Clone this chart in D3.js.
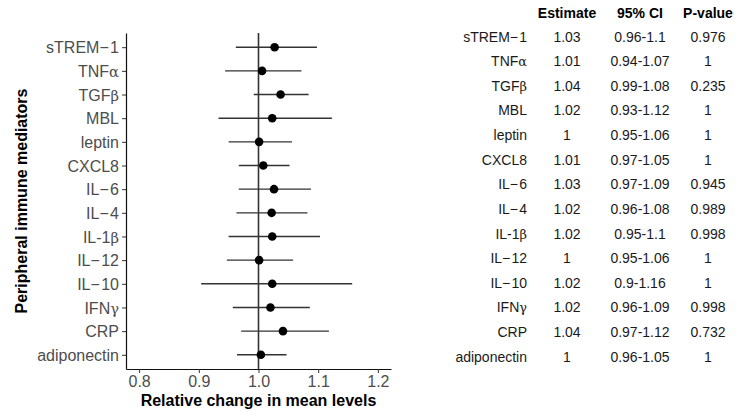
<!DOCTYPE html>
<html>
<head>
<meta charset="utf-8">
<script src="https://cdn.jsdelivr.net/npm/d3@7"></script>
<style>
  html, body { margin: 0; padding: 0; background: #fff; }
  svg { display: block; }
  text { font-family: Arial, "Liberation Sans", sans-serif; }
</style>
</head>
<body>
<svg id="chart" width="739" height="415"></svg>
<script>
// ---- data ----
const categories = ["sTREM\u2212\u200A1", "TNF\u03B1", "TGF\u03B2", "MBL", "leptin", "CXCL8", "IL\u2212\u200A6", "IL\u2212\u200A4", "IL-1\u03B2", "IL\u2212\u200A12", "IL\u2212\u200A10", "IFN\u03B3", "CRP", "adiponectin"];
const estimate = [1.027, 1.006, 1.037, 1.023, 1.001, 1.008, 1.026, 1.022, 1.023, 1.001, 1.023, 1.020, 1.041, 1.004];
const lower    = [0.962, 0.944, 0.992, 0.933, 0.950, 0.967, 0.967, 0.963, 0.950, 0.947, 0.904, 0.957, 0.971, 0.964];
const upper    = [1.098, 1.072, 1.084, 1.123, 1.056, 1.052, 1.088, 1.082, 1.103, 1.058, 1.157, 1.086, 1.118, 1.047];
const xTicks = [0.8, 0.9, 1.0, 1.1, 1.2];
const tableHeaders = ["Estimate", "95% CI", "P-value"];
const estLabels = ["1.03", "1.01", "1.04", "1.02", "1", "1.01", "1.03", "1.02", "1.02", "1", "1.02", "1.02", "1.04", "1"];
const ciLabels = ["0.96-1.1", "0.94-1.07", "0.99-1.08", "0.93-1.12", "0.95-1.06", "0.97-1.05", "0.97-1.09", "0.96-1.08", "0.95-1.1", "0.95-1.06", "0.9-1.16", "0.96-1.09", "0.97-1.12", "0.96-1.05"];
const pLabels = ["0.976", "1", "0.235", "1", "1", "1", "0.945", "0.989", "0.998", "1", "1", "0.998", "0.732", "1"];
const xTitle = "Relative change in mean levels";
const yTitle = "Peripheral immune mediators";

// ---- layout ----
const svg = d3.select("#chart");
const plot = { left: 126, right: 391, top: 33, bottom: 369 };

const x = d3.scaleLinear().domain([0.778, 1.222]).range([plot.left, plot.right]);
const y = d3.scalePoint().domain(categories).range([plot.top, plot.bottom]).padding(0.6);

// helper: write label with Greek letters in a serif face
function richText(sel, s) {
  const parts = s.split(/([\u0391-\u03C9])/).filter(p => p.length);
  parts.forEach(p => {
    const t = sel.append("tspan").text(p);
    if (/[\u0391-\u03C9]/.test(p)) t.style("font-family", "'DejaVu Serif', 'Liberation Serif', serif").style("font-size", "0.92em");
  });
}

// reference line at 1
svg.append("line")
  .attr("x1", x(1)).attr("x2", x(1))
  .attr("y1", plot.top).attr("y2", plot.bottom)
  .attr("stroke", "#333").attr("stroke-width", 1.6);

// CI lines
svg.append("g").selectAll("line").data(categories).join("line")
  .attr("x1", (d, i) => x(lower[i])).attr("x2", (d, i) => x(upper[i]))
  .attr("y1", d => y(d)).attr("y2", d => y(d))
  .attr("stroke", "#333").attr("stroke-width", 1.4);

// points
svg.append("g").selectAll("circle").data(categories).join("circle")
  .attr("cx", (d, i) => x(estimate[i])).attr("cy", d => y(d))
  .attr("r", 4.3).attr("fill", "#000");

// axes
const xAxis = svg.append("g").attr("transform", `translate(0,${plot.bottom})`)
  .call(d3.axisBottom(x).tickValues(xTicks).tickFormat(d3.format(".1f")).tickSize(4).tickSizeOuter(0).tickPadding(3));
const yAxis = svg.append("g").attr("transform", `translate(${plot.left},0)`)
  .call(d3.axisLeft(y).tickSize(4).tickSizeOuter(0).tickPadding(3).tickFormat(""));

[xAxis, yAxis].forEach(a => {
  a.select(".domain").attr("stroke", "#111").attr("stroke-width", 1.2);
  a.selectAll(".tick line").attr("stroke", "#333").attr("stroke-width", 1);
});
xAxis.selectAll(".tick text").attr("fill", "#4d4d4d").style("font-size", "16px").style("font-family", "Arial, 'Liberation Sans', sans-serif");

// y tick labels with rich text
yAxis.selectAll(".tick").each(function(d) {
  const t = d3.select(this).select("text")
    .attr("x", -7).attr("dy", "0.35em")
    .attr("fill", "#4d4d4d").attr("text-anchor", "end")
    .style("font-size", "16px").style("font-family", "Arial, 'Liberation Sans', sans-serif");
  t.text(null);
  richText(t, d);
});

// axis titles
svg.append("text").attr("x", (plot.left + plot.right) / 2).attr("y", 406)
  .attr("text-anchor", "middle").style("font-size", "16px").style("font-weight", "bold")
  .attr("fill", "#000").text(xTitle);
svg.append("text").attr("transform", `translate(27,${(plot.top + plot.bottom) / 2}) rotate(-90)`)
  .attr("text-anchor", "middle").style("font-size", "16px").style("font-weight", "bold")
  .attr("fill", "#000").text(yTitle);

// ---- table ----
const ty = d3.scalePoint().domain(categories).range([36.7, 356.7]);
const colX = [567, 640, 708];
const labelRight = 527;
const tbl = svg.append("g").style("font-size", "14px").attr("fill", "#1a1a1a");

tbl.selectAll("text.hdr").data(tableHeaders).join("text").attr("class", "hdr")
  .attr("x", (d, i) => colX[i]).attr("y", 13).attr("dy", "0.35em")
  .attr("text-anchor", "middle").style("font-weight", "bold").attr("fill", "#000").text(d => d);

tbl.selectAll("text.lbl").data(categories).join("text").attr("class", "lbl")
  .attr("x", labelRight).attr("y", d => ty(d)).attr("dy", "0.35em")
  .attr("text-anchor", "end")
  .each(function(d) { richText(d3.select(this), d); });

[estLabels, ciLabels, pLabels].forEach((col, c) => {
  tbl.append("g").selectAll("text").data(categories).join("text")
    .attr("x", colX[c]).attr("y", d => ty(d)).attr("dy", "0.35em")
    .attr("text-anchor", "middle").text((d, i) => col[i]);
});
</script>
</body>
</html>
